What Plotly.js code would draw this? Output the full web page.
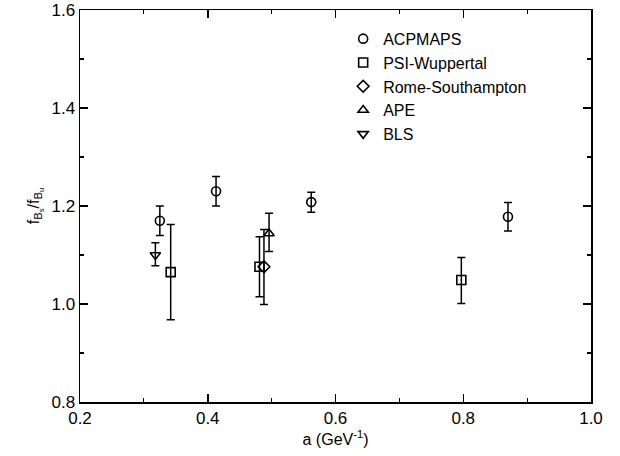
<!DOCTYPE html>
<html>
<head>
<meta charset="utf-8">
<script src="https://cdn.plot.ly/plotly-3.0.1.min.js"></script>
<style>html,body{margin:0;padding:0;background:#fff}#chart{width:620px;height:456px}</style>
</head>
<body>
<div id="chart"></div>
<script>
// ACPMAPS
const acpX = [0.325, 0.413, 0.562, 0.870];
const acpY = [1.170, 1.230, 1.208, 1.178];
const acpErrUp = [0.030, 0.030, 0.020, 0.029];
const acpErrDn = [0.030, 0.030, 0.021, 0.029];
// PSI-Wuppertal
const psiX = [0.342, 0.481, 0.797];
const psiY = [1.065, 1.076, 1.049];
const psiErrUp = [0.097, 0.061, 0.046];
const psiErrDn = [0.097, 0.061, 0.048];
// Rome-Southampton
const romeX = [0.488];
const romeY = [1.076];
const romeErrUp = [0.076];
const romeErrDn = [0.077];
// APE
const apeX = [0.496];
const apeY = [1.144];
const apeErrUp = [0.041];
const apeErrDn = [0.037];
// BLS
const blsX = [0.318];
const blsY = [1.100];
const blsErrUp = [0.025];
const blsErrDn = [0.022];

const names = ["ACPMAPS", "PSI-Wuppertal", "Rome-Southampton", "APE", "BLS"];
const xTicks = [0.2, 0.4, 0.6, 0.8, 1.0];
const yTicks = [0.8, 1.0, 1.2, 1.4, 1.6];

function tr(name, x, y, up, dn, sym) {
  return {
    type: 'scatter', mode: 'markers', name: name, x: x, y: y,
    marker: {symbol: sym, size: 9, color: '#000', line: {color: '#000', width: 1.6}},
    error_y: {type: 'data', symmetric: false, array: up, arrayminus: dn, color: '#000', thickness: 1.5, width: 4}
  };
}
const data = [
  tr(names[0], acpX, acpY, acpErrUp, acpErrDn, 'circle-open'),
  tr(names[1], psiX, psiY, psiErrUp, psiErrDn, 'square-open'),
  tr(names[2], romeX, romeY, romeErrUp, romeErrDn, 'diamond-open'),
  tr(names[3], apeX, apeY, apeErrUp, apeErrDn, 'triangle-up-open'),
  tr(names[4], blsX, blsY, blsErrUp, blsErrDn, 'triangle-down-open')
];
const font = {family: 'Liberation Sans, Arial, sans-serif', size: 17, color: '#000'};
const axisCommon = {
  showline: true, linecolor: '#000', linewidth: 1.5, mirror: 'ticks',
  ticks: 'inside', ticklen: 8, tickwidth: 1.5, tickcolor: '#000',
  showgrid: false, zeroline: false, tickfont: font,
  tickmode: 'linear', dtick: 0.2, tickformat: '.1f',
  minor: {ticks: 'inside', ticklen: 4, tickwidth: 1.2, tickcolor: '#000', dtick: 0.1, showgrid: false}
};
const layout = {
  width: 620, height: 456,
  margin: {l: 80, r: 29, t: 10, b: 54},
  paper_bgcolor: '#fff', plot_bgcolor: '#fff',
  font: font,
  showlegend: true,
  legend: {x: 0.515, y: 0.97, xanchor: 'left', yanchor: 'top', bgcolor: 'rgba(0,0,0,0)',
           font: {family: font.family, size: 16, color: '#000'}, tracegroupgap: 0, itemwidth: 30},
  xaxis: Object.assign({}, axisCommon, {
    range: [0.2, 1.0], tick0: xTicks[0],
    title: {text: 'a (GeV<sup>-1</sup>)', font: {family: font.family, size: 16, color: '#000'}, standoff: 4}
  }),
  yaxis: Object.assign({}, axisCommon, {
    range: [0.8, 1.6], tick0: yTicks[0],
    title: {text: 'f<sub>B<sub>s</sub></sub>/f<sub>B<sub>u</sub></sub>', font: {family: font.family, size: 16, color: '#000'}, standoff: 8}
  })
};
Plotly.newPlot('chart', data, layout, {displayModeBar: false, staticPlot: true});
</script>
</body>
</html>
